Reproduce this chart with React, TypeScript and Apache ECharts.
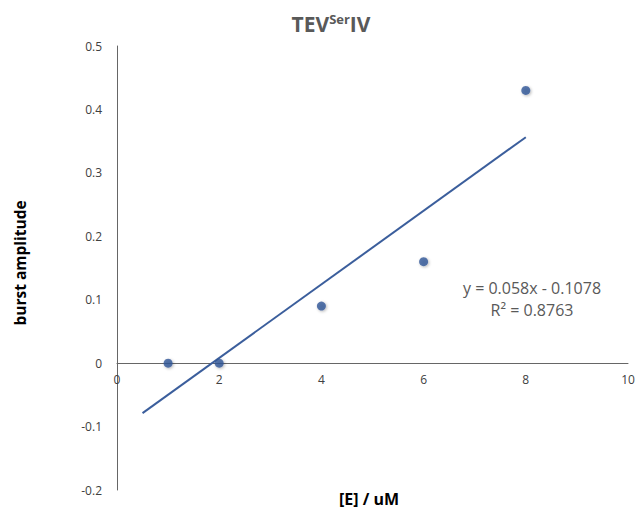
import React, { useEffect, useRef } from "react";
import * as echarts from "echarts";

// Enzyme concentration (uM) and measured burst amplitudes
const concentrations = [1, 2, 4, 6, 8];
const burstAmplitudes = [0, 0, 0.09, 0.16, 0.43];

// Linear fit reported on the chart
const fitSlope = 0.058;
const fitIntercept = -0.1078;
const fitR2 = 0.8763;
const fitRange = [0.5, 8];

const yTicks = { min: -0.2, max: 0.5, interval: 0.1 };
const xTicks = { min: 0, max: 10, interval: 2 };

const FONT = "'Open Sans', 'Liberation Sans', sans-serif";
const BLUE = "#2f5597";
const TEXT = "#404040";
const GREY = "#595959";

const GRID_LEFT = 117;
const GRID_RIGHT = 10;
const GRID_TOP = 46;
const GRID_BOTTOM = 22;
const PLOT_H = 512 - GRID_TOP - GRID_BOTTOM;
// y position of the zero line, where the x tick labels sit
const ZERO_Y = GRID_TOP + (PLOT_H * (yTicks.max - 0)) / (yTicks.max - yTicks.min);

export default function App() {
  const ref = useRef<HTMLDivElement>(null);

  useEffect(() => {
    if (!ref.current) return;
    const chart = echarts.init(ref.current, null, { renderer: "svg" });

    const trend = fitRange.map((x) => [x, fitSlope * x + fitIntercept]);
    const points = concentrations.map((x, i) => [x, burstAmplitudes[i]]);

    chart.setOption({
      animation: false,
      backgroundColor: "#ffffff",
      grid: [
        { left: GRID_LEFT, right: GRID_RIGHT, top: GRID_TOP, bottom: GRID_BOTTOM },
        // thin strip along the zero line that carries the x tick labels
        { left: GRID_LEFT, right: GRID_RIGHT, top: ZERO_Y - 1, height: 1 },
      ],
      xAxis: [
        {
          type: "value",
          gridIndex: 0,
          min: xTicks.min,
          max: xTicks.max,
          interval: xTicks.interval,
          axisLine: { onZero: true, lineStyle: { color: "#666666", width: 1 } },
          axisTick: { show: false },
          splitLine: { show: false },
          axisLabel: { show: false },
        },
        {
          type: "value",
          gridIndex: 1,
          min: xTicks.min,
          max: xTicks.max,
          interval: xTicks.interval,
          axisLine: { show: false },
          axisTick: { show: false },
          splitLine: { show: false },
          axisLabel: { color: TEXT, fontFamily: FONT, fontSize: 12, margin: 10 },
        },
      ],
      yAxis: [
        {
          type: "value",
          gridIndex: 0,
          min: yTicks.min,
          max: yTicks.max,
          interval: yTicks.interval,
          axisLine: { show: true, onZero: false, lineStyle: { color: "#666666", width: 1 } },
          axisTick: { show: false },
          splitLine: { show: false },
          axisLabel: {
            color: TEXT,
            fontFamily: FONT,
            fontSize: 12,
            margin: 15,
            formatter: (v: number) => String(Math.round(v * 10) / 10),
          },
        },
        {
          type: "value",
          gridIndex: 1,
          min: 0,
          max: 1,
          show: false,
        },
      ],
      series: [
        {
          type: "line",
          xAxisIndex: 0,
          yAxisIndex: 0,
          data: trend,
          showSymbol: false,
          lineStyle: { color: "#3b5e9c", width: 2 },
          z: 2,
        },
        {
          type: "scatter",
          xAxisIndex: 0,
          yAxisIndex: 0,
          data: points,
          symbol: "circle",
          symbolSize: 9,
          itemStyle: {
            color: BLUE,
            shadowColor: "rgba(0,0,0,0.35)",
            shadowBlur: 3,
            shadowOffsetX: 1,
            shadowOffsetY: 1,
          },
          z: 3,
        },
      ],
      graphic: [
        {
          type: "text",
          x: 331,
          y: 23,
          style: {
            text: "{a|TEV}{b|Ser}{a|IV}",
            align: "center",
            verticalAlign: "middle",
            rich: {
              a: { fontFamily: FONT, fontSize: 21, fontWeight: "bold", fill: GREY, verticalAlign: "bottom" },
              b: {
                fontFamily: FONT,
                fontSize: 13,
                fontWeight: "bold",
                fill: GREY,
                verticalAlign: "bottom",
                padding: [0, 0, 9, 0],
              },
            },
          },
        },
        {
          type: "text",
          rotation: Math.PI / 2,
          x: 20,
          y: 263,
          style: {
            text: "burst amplitude",
            fontFamily: FONT,
            fontSize: 15.5,
            fontWeight: "bold",
            fill: "#000000",
            align: "center",
            verticalAlign: "middle",
          },
        },
        {
          type: "text",
          x: 369,
          y: 499,
          style: {
            text: "[E] / uM",
            fontFamily: FONT,
            fontSize: 16,
            fontWeight: "bold",
            fill: "#000000",
            align: "center",
            verticalAlign: "middle",
          },
        },
        {
          type: "text",
          x: 532,
          y: 288,
          style: {
            text: `y = ${fitSlope}x - ${Math.abs(fitIntercept)}`,
            fontFamily: FONT,
            fontSize: 16,
            fill: GREY,
            align: "center",
            verticalAlign: "middle",
          },
        },
        {
          type: "text",
          x: 532,
          y: 310,
          style: {
            text: `R² = ${fitR2}`,
            fontFamily: FONT,
            fontSize: 16,
            fill: GREY,
            align: "center",
            verticalAlign: "middle",
          },
        },
      ],
    });

    return () => chart.dispose();
  }, []);

  return <div ref={ref} style={{ width: 638, height: 512, position: "absolute", left: 0, top: 0 }} />;
}
